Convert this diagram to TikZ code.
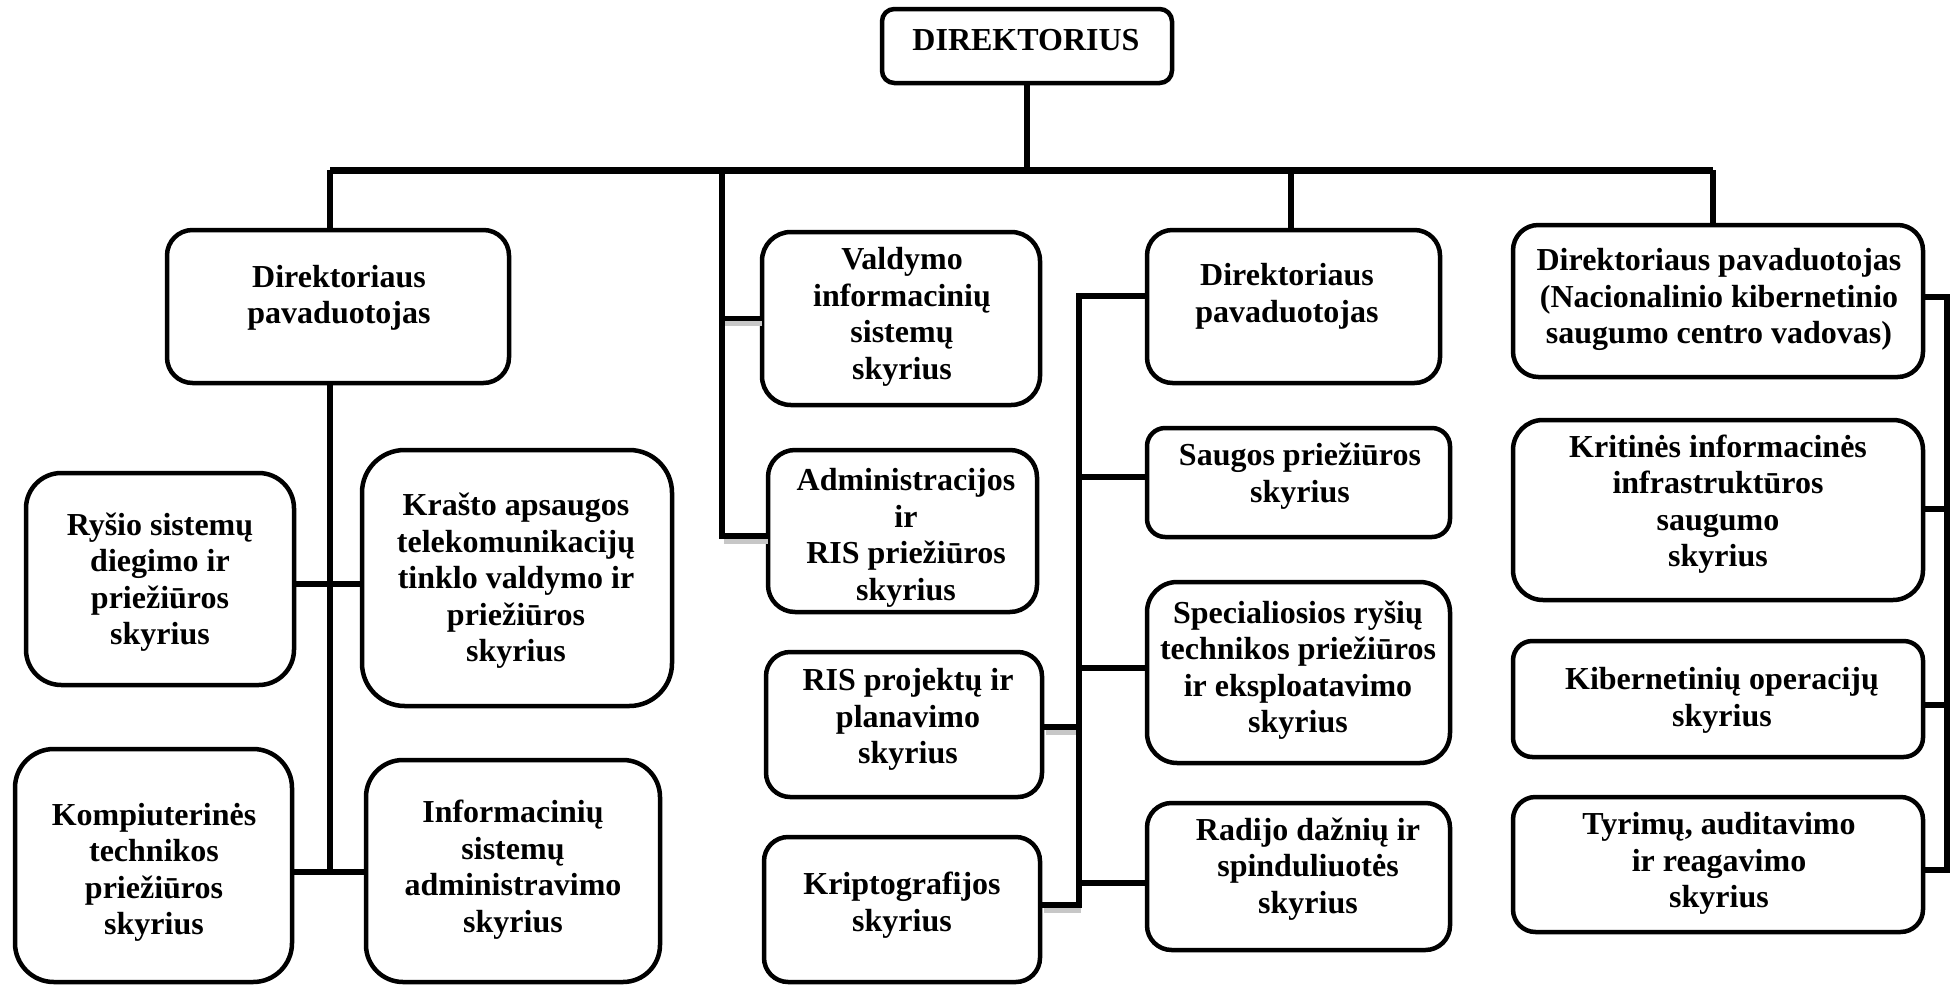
\documentclass[tikz,border=0pt]{standalone}
\usepackage{fontspec}
\setmainfont{Liberation Serif}
\newcommand{\obox}[5]{%
  \pgfmathsetmacro\bw{#4-#2}\pgfmathsetmacro\bh{#5-#3}\pgfmathsetmacro\rr{min(\bw,\bh)/6}%
  \node[box, minimum width=\bw pt, minimum height=\bh pt, rounded corners=\rr pt] (#1) at ({(#2+#4)/2},{(#3+#5)/2}) {};}
\begin{document}
\begin{tikzpicture}[x=1pt,y=-1pt,
  box/.style={draw, line width=4.5pt, inner sep=0pt, fill=white},
  txt/.style={align=center, inner sep=0pt, font=\fontsize{32}{36.5}\selectfont\bfseries,
    execute at begin node=\strut, execute at end node=\strut},
  conn/.style={line width=5.5pt},
  busline/.style={line width=7pt},
  shadowline/.style={line width=5pt, black!22, transform canvas={shift={(2pt,-5pt)}}}]
\useasboundingbox (0,0) rectangle (1952,985);

% boxes
\obox{dir}{882}{9}{1172}{83}
\obox{dp1}{167}{230}{509}{383}
\obox{valdymo}{762}{232}{1040}{405}
\obox{admin}{768}{450}{1037}{612}
\obox{ris}{766}{652}{1042}{797}
\obox{kripto}{764}{837}{1040}{982}
\obox{rysio}{26}{473}{294}{685}
\obox{krasto}{362}{450}{672}{706}
\obox{komp}{15}{749}{292}{982}
\obox{info}{366}{760}{660}{982}
\obox{dp2}{1147}{230}{1440}{383}
\obox{saugos}{1147}{428}{1450}{537}
\obox{spec}{1147}{582}{1450}{763}
\obox{radijo}{1147}{803}{1450}{950}
\obox{nksc}{1513}{225}{1923}{377}
\obox{krit}{1513}{420}{1923}{600}
\obox{kib}{1513}{641}{1923}{757}
\obox{tyr}{1513}{797}{1923}{932}

% texts
\node[txt] (t-dir) at (1026,42.7) {DIREKTORIUS};
\node[txt] (t-dp1) at (339,299.7) {Direktoriaus\\pavaduotojas};
\node[txt] (t-valdymo) at (902,319) {Valdymo\\informacinių\\sistemų\\skyrius};
\node[txt] (t-admin) at (906,539.7) {Administracijos\\ir\\RIS priežiūros\\skyrius};
\node[txt] (t-ris) at (908,721.7) {RIS projektų ir\\planavimo\\skyrius};
\node[txt] (t-kripto) at (902,907.2) {Kriptografijos\\skyrius};
\node[txt] (t-rysio) at (160,584) {Ryšio sistemų\\diegimo ir\\priežiūros\\skyrius};
\node[txt] (t-krasto) at (516,582.7) {Krašto apsaugos\\telekomunikacijų\\tinklo valdymo ir\\priežiūros\\skyrius};
\node[txt] (t-komp) at (154,874.5) {Kompiuterinės\\technikos\\priežiūros\\skyrius};
\node[txt] (t-info) at (513,871.7) {Informacinių\\sistemų\\administravimo\\skyrius};
\node[txt] (t-dp2) at (1287,298.2) {Direktoriaus\\pavaduotojas};
\node[txt] (t-saugos) at (1300,478.2) {Saugos priežiūros\\skyrius};
\node[txt] (t-spec) at (1298,672.2) {Specialiosios ryšių\\technikos priežiūros\\ir eksploatavimo\\skyrius};
\node[txt] (t-radijo) at (1308,871) {Radijo dažnių ir\\spinduliuotės\\skyrius};
\node[txt] (t-nksc) at (1719,301.4) {Direktoriaus pavaduotojas\\(Nacionalinio kibernetinio\\saugumo centro vadovas)};
\node[txt] (t-krit) at (1718,506.2) {Kritinės informacinės\\infrastruktūros\\saugumo\\skyrius};
\node[txt] (t-kib) at (1722,702.2) {Kibernetinių operacijų\\skyrius};
\node[txt] (t-tyr) at (1719,865.7) {Tyrimų, auditavimo\\ir reagavimo\\skyrius};

% bus
\coordinate (bL) at (330,170);
\coordinate (bR) at (1713,170);
\coordinate (b2) at (722,170);
\coordinate (b3) at (1291,170);
\draw[busline] (bL) -- (bR);
\draw[conn] (dir.south) -- (dir.south |- bL);
\draw[conn] (bL) -- (bL |- dp1.north);
\draw[conn] (b3) -- (b3 |- dp2.north);
\draw[conn] (bR) -- (bR |- nksc.north);

% column 2
\coordinate (b2e) at (722,536);
\draw[shadowline] (b2 |- valdymo.west) -- (valdymo.west);
\draw[shadowline] (b2e) -- (admin.west |- b2e);
\draw[conn] (b2) -- (b2e) -- (admin.west |- b2e);
\draw[conn] (b2 |- valdymo.west) -- (valdymo.west);

% left group
\coordinate (lT) at (dp1.south -| bL);
\coordinate (lB) at (330,872);
\coordinate (l1) at (330,584);
\draw[conn] (lT) -- (lB);
\draw[conn] (rysio.east |- l1) -- (krasto.west |- l1);
\draw[conn] (komp.east |- lB) -- (info.west |- lB);

% middle bracket
\coordinate (mT) at (1079,296);
\coordinate (mB) at (1079,905);
\coordinate (m1) at (1079,477);
\coordinate (m2) at (1079,668);
\coordinate (m3) at (1079,883);
\coordinate (m4) at (1079,727);
\draw[shadowline] (ris.east |- m4) -- (m4);
\draw[shadowline] (kripto.east |- mB) -- (mB);
\draw[conn] (dp2.west |- mT) -- (mT) -- (mB) -- (kripto.east |- mB);
\draw[conn] (m1) -- (saugos.west |- m1);
\draw[conn] (m2) -- (spec.west |- m2);
\draw[conn] (m3) -- (radijo.west |- m3);
\draw[conn] (ris.east |- m4) -- (m4);

% right bracket
\coordinate (rT) at (1947,297);
\coordinate (rB) at (1947,870);
\coordinate (r1) at (1947,509);
\coordinate (r2) at (1947,705);
\draw[conn] (nksc.east |- rT) -- (rT) -- (rB) -- (tyr.east |- rB);
\draw[conn] (krit.east |- r1) -- (r1);
\draw[conn] (kib.east |- r2) -- (r2);
\end{tikzpicture}
\end{document}
